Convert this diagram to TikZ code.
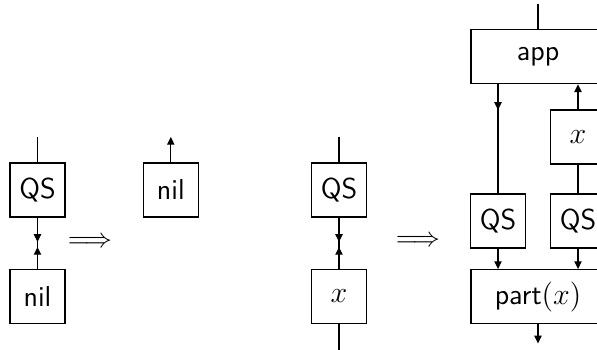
\documentclass[tikz,border=0pt]{standalone}
\usetikzlibrary{arrows.meta}
\tikzset{
  box/.style={draw, inner sep=0pt, minimum width=22pt, minimum height=21.6pt, font=\fontsize{11.5}{14}\selectfont\sffamily},
  widebox/.style={box, minimum width=53.6pt},
  arr/.style={-{Triangle[length=3.1pt,width=2.9pt]}},
  implies/.style={font=\fontsize{10.5}{12}\selectfont}
}
\begin{document}
\begin{tikzpicture}[x=0.4pt, y=-0.4pt, line width=0.5pt]
\clip (0,0) rectangle (597,350);
\useasboundingbox (0,0) rectangle (597,350);

% QS applied to nil
\node[box] (qsA) at (37.5,190) {QS};
\node[box] (nilA) at (37.5,296.5) {nil};
\coordinate (inA) at (37.5,137);
\coordinate (mA1) at (37.5,242);
\coordinate (mA2) at (37.5,247);
\draw (inA) -- (qsA.north);
\draw (qsA.south) -- (nilA.north);
\draw[arr] (qsA.south) -- (mA1);
\draw[arr] (nilA.north) -- (mA2);

\node[implies] (impA) at (90,242) {$\Longrightarrow$};

\node[box] (nilB) at (170.8,190) {nil};
\coordinate (outB) at (170.8,137);
\draw[arr] (nilB.north) -- (outB);

% QS applied to x
\node[box] (qsC) at (339,190) {QS};
\node[box] (xC) at (339,296.5) {$x$};
\coordinate (inC) at (339,137);
\coordinate (outC) at (339,352);
\coordinate (mC1) at (339,242);
\coordinate (mC2) at (339,247);
\draw (inC) -- (qsC.north);
\draw (qsC.south) -- (xC.north);
\draw (xC.south) -- (outC);
\draw[arr] (qsC.south) -- (mC1);
\draw[arr] (xC.north) -- (mC2);

\node[implies] (impB) at (418,241) {$\Longrightarrow$};

% result: app, recursive calls, part(x)
\node[widebox] (app) at (538,56.7) {app};
\node[box] (xD) at (578,137) {$x$};
\node[box] (qsL) at (498,221) {QS};
\node[box] (qsR) at (578,221) {QS};
\node[widebox] (part) at (538,296.7) {part$(x)$};
\coordinate (inD) at (538,4);
\coordinate (outD) at (538,343.5);
\coordinate (stubL) at (498,110);

\draw (inD) -- (app.north);
\draw (app.south -| qsL) -- (qsL.north);
\draw[arr] (app.south -| qsL) -- (stubL);
\draw[arr] (xD.north) -- (app.south -| xD);
\draw (xD.south) -- (qsR.north);
\draw[arr] (qsL.south) -- (part.north -| qsL);
\draw[arr] (qsR.south) -- (part.north -| qsR);
\draw[arr] (part.south) -- (outD);
\end{tikzpicture}
\end{document}
